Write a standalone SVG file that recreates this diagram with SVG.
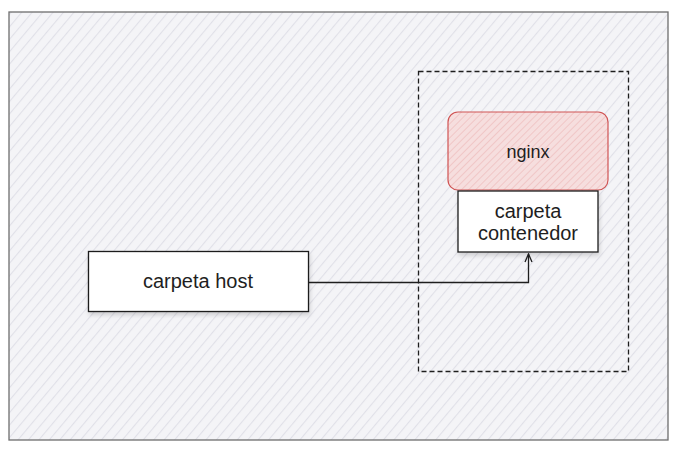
<svg xmlns="http://www.w3.org/2000/svg" width="678" height="453" viewBox="0 0 678 453">
<style>
.lbl{font-family:"Liberation Sans","DejaVu Sans",sans-serif;font-size:20px;fill:#1e1e1e;text-anchor:middle}
.box{fill:#ffffff;stroke:#1e1e1e;stroke-width:1.3}
</style>
<defs>
<pattern id="hatchGray" patternUnits="userSpaceOnUse" width="8" height="8" patternTransform="rotate(40)">
<rect width="8" height="8" fill="#f4f4f7"/>
<line x1="0" y1="0" x2="0" y2="8" stroke="#e0e0e8" stroke-width="2.2"/>
</pattern>
<pattern id="hatchRed" patternUnits="userSpaceOnUse" width="5" height="5" patternTransform="rotate(45)">
<rect width="5" height="5" fill="#f6dede"/>
<line x1="0" y1="0" x2="0" y2="5" stroke="#eebcbc" stroke-width="1.4"/>
</pattern>
<filter id="sh" x="-10%" y="-10%" width="130%" height="140%">
<feDropShadow dx="1" dy="3" stdDeviation="2" flood-color="#000" flood-opacity="0.15"/>
</filter>
<marker id="arr" markerWidth="10" markerHeight="10" refX="9" refY="5" orient="auto" markerUnits="userSpaceOnUse">
<path d="M1,1.5 L9,5 L1,8.5" fill="none" stroke="#1e1e1e" stroke-width="1.3"/>
</marker>
</defs>
<g id="frame">
<rect x="9" y="12" width="659" height="428" fill="url(#hatchGray)" stroke="#6e6e6e" stroke-width="1.3"/>
</g>
<g id="container">
<rect x="418.5" y="71.5" width="210" height="300" fill="none" stroke="#1e1e1e" stroke-width="1.3" stroke-dasharray="5 3"/>
</g>
<g id="nginx">
<rect x="448" y="112" width="160" height="78" rx="10" fill="url(#hatchRed)" stroke="#d05454" stroke-width="1.2"/>
<text class="lbl" x="528" y="158" style="font-size:18px">nginx</text>
</g>
<g id="carpeta-contenedor">
<rect class="box" x="458" y="191" width="140" height="61" filter="url(#sh)"/>
<text class="lbl" x="528" y="218">carpeta</text>
<text class="lbl" x="528" y="240">contenedor</text>
</g>
<g id="carpeta-host">
<rect class="box" x="88.5" y="251.5" width="220" height="60" filter="url(#sh)"/>
<text class="lbl" x="198" y="288">carpeta host</text>
</g>
<g id="connectors">
<path d="M309,282.5 H528.5 V254" fill="none" stroke="#1e1e1e" stroke-width="1.3" marker-end="url(#arr)"/>
</g>
</svg>
